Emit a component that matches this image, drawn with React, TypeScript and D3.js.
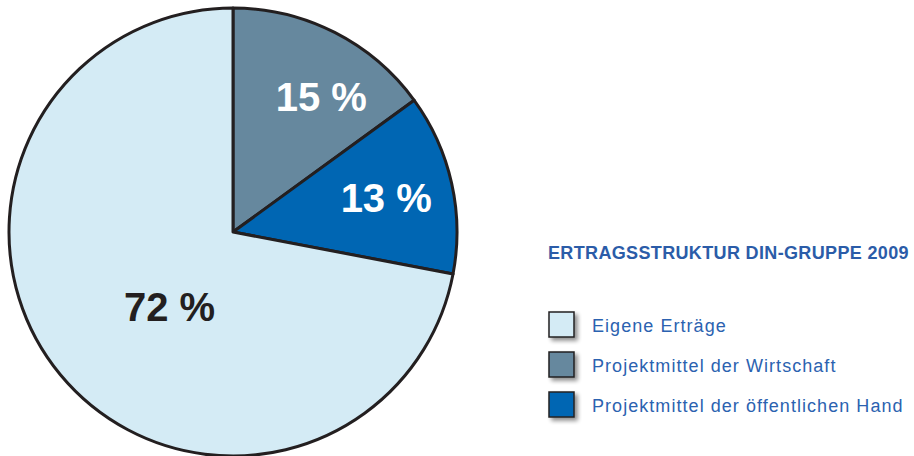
import React from "react";
import * as d3 from "d3";

const categories = ["Projektmittel der Wirtschaft", "Projektmittel der öffentlichen Hand", "Eigene Erträge"];
const values = [15, 13, 72];
const labels = ["15 %", "13 %", "72 %"];
const colors = ["#66889e", "#0066b3", "#d4ebf5"];
const labelColors = ["#ffffff", "#ffffff", "#231f20"];
const legendOrder = ["Eigene Erträge", "Projektmittel der Wirtschaft", "Projektmittel der öffentlichen Hand"];
const title = "ERTRAGSSTRUKTUR DIN-GRUPPE 2009";

// label placement: radius (px) and angle shift (deg) from slice mid-angle
const labelRadius = [162, 157, 98];
const labelShift = [6, 0, -10];

export default function App() {
  const W = 914, H = 456;
  const cx = 233, cy = 232, r = 224;
  const pie = d3.pie<number>().sort(null).value((d) => d)(values);
  const arc = d3.arc<d3.PieArcDatum<number>>().innerRadius(0).outerRadius(r);
  const labelPos = (i: number, a: d3.PieArcDatum<number>) => {
    const m = (a.startAngle + a.endAngle) / 2 + (labelShift[i] * Math.PI) / 180;
    const rr = labelRadius[i];
    return [Math.sin(m) * rr, -Math.cos(m) * rr];
  };
  const font = "'Liberation Sans', Arial, Helvetica, sans-serif";
  return (
    <svg width={W} height={H} style={{ position: "absolute", left: 0, top: 0 }}>
      <defs>
        <filter id="sh" x="-30%" y="-30%" width="180%" height="180%">
          <feGaussianBlur in="SourceAlpha" stdDeviation="2" />
          <feOffset dx="3" dy="3" result="b" />
          <feComponentTransfer><feFuncA type="linear" slope="0.45" /></feComponentTransfer>
          <feMerge><feMergeNode /><feMergeNode in="SourceGraphic" /></feMerge>
        </filter>
      </defs>
      <g transform={`translate(${cx},${cy})`}>
        {pie.map((a, i) => (
          <path key={i} d={arc(a) || ""} fill={colors[i]} stroke="#231f20" strokeWidth={3} strokeLinejoin="round" />
        ))}
        {pie.map((a, i) => {
          const [x, y] = labelPos(i, a);
          return (
            <text key={"t" + i} x={x} y={y} dy="0.36em" textAnchor="middle" fill={labelColors[i]}
              fontFamily={font} fontWeight="bold" fontSize={40}>{labels[i]}</text>
          );
        })}
      </g>
      <text x={548} y={259} fill="#2b5ca8" fontFamily={font} fontWeight="bold" fontSize={18} letterSpacing={0.35}>{title}</text>
      {legendOrder.map((name, j) => {
        const i = categories.indexOf(name);
        const y = 312 + j * 40;
        return (
          <g key={name}>
            <rect x={549} y={y} width={25} height={25} fill={colors[i]} stroke="#231f20" strokeWidth={1.5} filter="url(#sh)" />
            <text x={592} y={y + 19.5} fill="#2b62b0" fontFamily={font} fontSize={18} letterSpacing={1.05}>{name}</text>
          </g>
        );
      })}
    </svg>
  );
}
